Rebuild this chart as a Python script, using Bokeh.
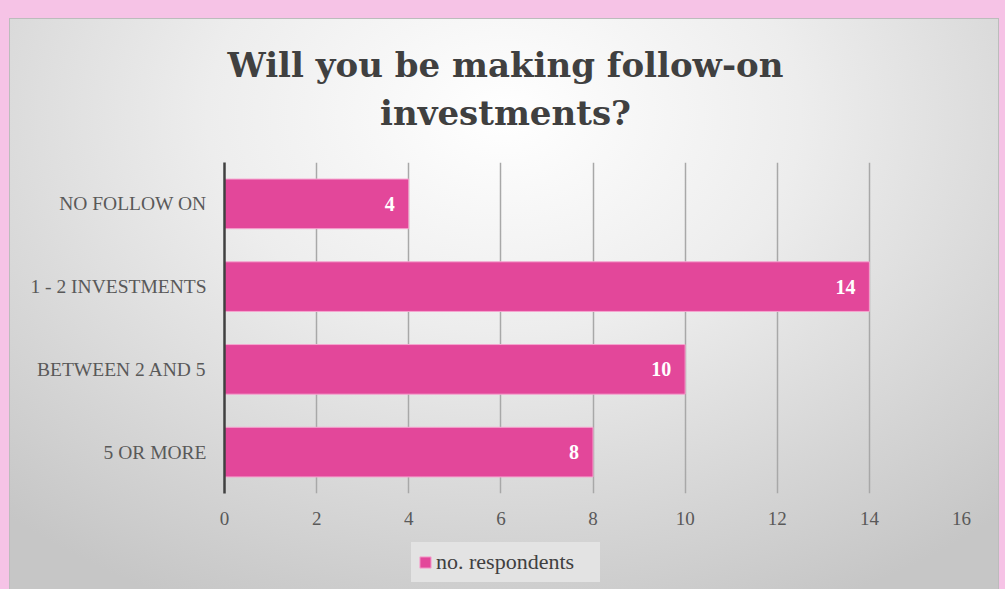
from bokeh.plotting import figure
from bokeh.layouts import column
from bokeh.models import (ColumnDataSource, Range1d, FactorRange, LabelSet, Legend,
                          LegendItem, Label, FixedTicker, InlineStyleSheet)
from bokeh.embed import file_html
from bokeh.resources import INLINE

categories = ["NO FOLLOW ON", "1 - 2 INVESTMENTS", "BETWEEN 2 AND 5", "5 OR MORE"]
values = [4, 14, 10, 8]
x_ticks = [0, 2, 4, 6, 8, 10, 12, 14, 16]
series_name = "no. respondents"
title_line1 = "Will you be making follow-on"
title_line2 = "investments?"

PINK_BG = "#f6c3e6"
BAR = "#e3479a"
BAR_EDGE = "#f5a6d0"
FONT = "Liberation Serif"
TITLE_FONT = "DejaVu Serif"
W = 1005
BL, BR = 224, 44

source = ColumnDataSource(dict(cat=categories, val=values,
                               lab=[str(v) for v in values]))

css = InlineStyleSheet(css=f"""
:host {{
  background:
    radial-gradient(ellipse 75% 90% at 50% 16%, #ffffff 0%, #ededed 40%, #d6d6d6 75%, #c6c6c6 100%) 10px 19px / 988px 600px no-repeat,
    linear-gradient(#bcbcbc, #bcbcbc) 9px 18px / 990px 600px no-repeat,
    {PINK_BG};
}}
""")


def strip(height):
    f = figure(width=W, height=height, output_backend="svg", toolbar_location=None,
               x_range=Range1d(0, 1), y_range=Range1d(0, 1),
               min_border_left=BL, min_border_right=BR, min_border_top=0, min_border_bottom=0)
    f.border_fill_color = None
    f.background_fill_color = None
    f.outline_line_color = None
    f.axis.visible = False
    f.grid.visible = False
    return f


# ---- title strip ----
head = strip(162)
for txt, base in ((title_line1, 98), (title_line2, 50)):
    head.add_layout(Label(x=281, y=base, x_units="screen", y_units="screen", text=txt,
                          text_align="center", text_baseline="alphabetic",
                          text_font=TITLE_FONT, text_font_size="34px", text_font_style="bold",
                          text_color="#404040"))

# ---- chart ----
p = figure(width=W, height=378, output_backend="svg", toolbar_location=None,
           x_range=Range1d(0, 16), y_range=FactorRange(*reversed(categories), range_padding=0),
           min_border_left=BL, min_border_right=BR, min_border_bottom=47, min_border_top=0)
p.title.text = ""
p.border_fill_color = None
p.background_fill_color = None
p.outline_line_color = None

p.hbar(y="cat", right="val", left=0, height=0.6, source=source,
       fill_color=BAR, line_color=BAR_EDGE, line_width=1)

labels = LabelSet(x="val", y="cat", text="lab", source=source, x_offset=-14,
                  text_align="right", text_baseline="middle", text_color="white",
                  text_font=FONT, text_font_size="20px", text_font_style="bold")
p.add_layout(labels)

p.xaxis.ticker = FixedTicker(ticks=x_ticks)
p.xaxis.axis_line_color = None
p.xaxis.major_tick_line_color = None
p.xaxis.minor_tick_line_color = None
p.xaxis.major_tick_out = 0
p.xaxis.major_tick_in = 0
p.xaxis.major_label_standoff = 18
p.xaxis.major_label_text_font = FONT
p.xaxis.major_label_text_font_size = "19px"
p.xaxis.major_label_text_color = "#595959"

p.yaxis.axis_line_color = "#404040"
p.yaxis.axis_line_width = 2.5
p.yaxis.major_tick_line_color = None
p.yaxis.minor_tick_line_color = None
p.yaxis.major_tick_out = 0
p.yaxis.major_tick_in = 0
p.yaxis.major_label_standoff = 18
p.yaxis.major_label_text_font = FONT
p.yaxis.major_label_text_font_size = "19.5px"
p.yaxis.major_label_text_color = "#595959"

p.xgrid.grid_line_color = "#a8a8a8"
p.xgrid.grid_line_width = 1.5
p.ygrid.grid_line_color = None

# ---- legend strip (its bar renderer is hidden; only the legend swatch shows) ----
q = strip(49)
lr = q.hbar(y="cat", right="val", left=0, height=0.6, source=source,
            fill_color=BAR, line_color=BAR_EDGE, line_width=1)
lr.visible = False

legend = Legend(items=[LegendItem(label=series_name, renderers=[lr])],
                location=(187, 7), orientation="horizontal",
                background_fill_color="#e3e3e3", background_fill_alpha=1,
                border_line_color="#e3e3e3", border_line_width=1, padding=6, margin=0,
                glyph_width=14, glyph_height=14, label_standoff=4, label_width=157,
                label_text_font=FONT, label_text_font_size="22px",
                label_text_color="#404040")
q.add_layout(legend, "center")

layout = column(head, p, q, spacing=0)
layout.stylesheets = [css]

html = file_html(layout, INLINE)
html = html.replace("</head>", f"<style>html, body {{ background: {PINK_BG}; }}</style></head>", 1)
open("out.html", "w").write(html)
